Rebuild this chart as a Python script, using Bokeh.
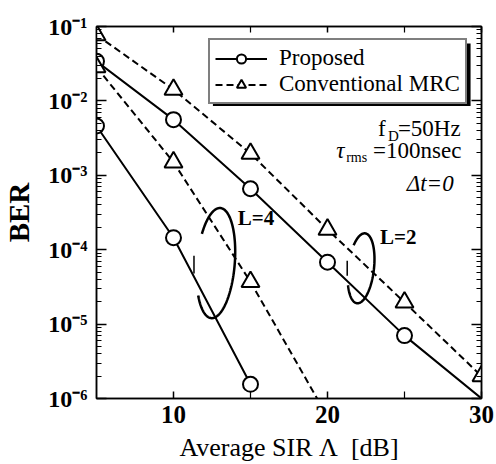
import numpy as np
from bokeh.plotting import figure
from bokeh.models import (LinearAxis, LogAxis, FixedTicker, CustomJSTickFormatter,
                          Legend, LegendItem, Label, Range1d, BoxAnnotation)
from bokeh.embed import file_html
from bokeh.resources import INLINE

FONT = "Liberation Serif"

# ---- data ----
# Proposed, L=2 (markers at 5..25, line runs on to 30)
prop_L2_x = [5, 10, 15, 20, 25, 30]
prop_L2_y = [3.4e-2, 5.6e-3, 6.6e-4, 6.8e-5, 7.0e-6, 1.0e-6]
prop_L2_nmark = 5
# Proposed, L=4
prop_L4_x = [5, 10, 15]
prop_L4_y = [4.6e-3, 1.45e-4, 1.55e-6]
prop_L4_nmark = 3
# Conventional MRC, L=2
conv_L2_x = [5, 10, 15, 20, 25, 30]
conv_L2_y = [7.7e-2, 1.42e-2, 1.96e-3, 1.87e-4, 1.96e-5, 2.0e-6]
conv_L2_nmark = 6
# Conventional MRC, L=4 (markers at 5..15, line runs on past bottom)
conv_L4_x = [5, 10, 15, 20]
conv_L4_y = [2.84e-2, 1.5e-3, 3.7e-5, 5.7e-7]
conv_L4_nmark = 3

x_major = [10, 20, 30]
x_minor = [15, 25]
y_major = [1e-6, 1e-5, 1e-4, 1e-3, 1e-2, 1e-1]
y_minor = [k * 10.0 ** e for e in range(-6, -1) for k in range(2, 10)]

p = figure(width=496, height=464, x_range=Range1d(5, 30), y_range=Range1d(1e-6, 1e-1),
           y_axis_type="log", output_backend="svg", toolbar_location=None,
           min_border_left=94, min_border_right=15, min_border_top=26, min_border_bottom=66)
p.grid.visible = False
p.outline_line_color = "black"
p.outline_line_width = 1.5
p.background_fill_color = "white"
p.border_fill_color = "white"

sup_js = r"""
const sup = {"-": "\u207b", "0": "\u2070", "1": "\u00b9", "2": "\u00b2", "3": "\u00b3",
             "4": "\u2074", "5": "\u2075", "6": "\u2076", "7": "\u2077", "8": "\u2078", "9": "\u2079"};
const e = Math.round(Math.log10(tick));
return "10" + String(e).split("").map(c => sup[c]).join("");
"""
blank = CustomJSTickFormatter(code="return '';")

def style_axis(ax, major_in, minor_in):
    ax.axis_line_color = "black"
    ax.axis_line_width = 1.5
    ax.major_tick_in = major_in
    ax.major_tick_out = 0
    ax.minor_tick_in = minor_in
    ax.minor_tick_out = 0
    ax.major_tick_line_width = 1.5
    ax.minor_tick_line_width = 1.2
    ax.major_tick_line_color = "black"
    ax.minor_tick_line_color = "black"

xa = p.xaxis[0]
xa.ticker = FixedTicker(ticks=x_major, minor_ticks=x_minor)
style_axis(xa, 7, 7)
xa.major_label_text_font = FONT
xa.major_label_text_font_size = "25px"
xa.major_label_text_font_style = "bold"
xa.major_label_text_color = "black"
xa.major_label_standoff = 7
xa.axis_label = "Average SIR \u039b\u2002[dB]"
xa.axis_label_text_font = FONT
xa.axis_label_text_font_size = "26px"
xa.axis_label_text_font_style = "normal"
xa.axis_label_text_color = "black"
xa.axis_label_standoff = 7

ya = p.yaxis[0]
ya.ticker = FixedTicker(ticks=y_major, minor_ticks=y_minor)
ya.formatter = CustomJSTickFormatter(code=sup_js)
style_axis(ya, 10, 5)
ya.major_label_text_font = FONT
ya.major_label_text_font_size = "24px"
ya.major_label_text_font_style = "bold"
ya.major_label_text_color = "black"
ya.major_label_standoff = 9
ya.axis_label = "BER"
ya.axis_label_text_font = FONT
ya.axis_label_text_font_size = "29px"
ya.axis_label_text_font_style = "bold"
ya.axis_label_text_color = "black"
ya.axis_label_standoff = 10

top = LinearAxis(ticker=FixedTicker(ticks=x_major, minor_ticks=x_minor), formatter=blank)
style_axis(top, 6, 6)
top.major_label_text_font_size = "1px"
top.major_label_standoff = 0
p.add_layout(top, "above")

right = LogAxis(ticker=FixedTicker(ticks=y_major, minor_ticks=y_minor), formatter=blank)
style_axis(right, 10, 5)
right.major_label_text_font_size = "1px"
right.major_label_standoff = 0
p.add_layout(right, "right")

LW = 2
DASH = "7 4"

def series(xs, ys, nmark, dashed, marker):
    kw = dict(line_color="black", line_width=LW)
    if dashed:
        kw["line_dash"] = DASH
    ln = p.line(xs, ys, **kw)
    if marker == "circle":
        sc = p.scatter(xs[:nmark], ys[:nmark], marker="circle", size=15,
                       fill_color="white", line_color="black", line_width=2)
    else:
        sc = p.scatter(xs[:nmark], ys[:nmark], marker="triangle", size=18,
                       fill_color="white", line_color="black", line_width=2)
    return ln, sc

lp2, sp2 = series(prop_L2_x, prop_L2_y, prop_L2_nmark, False, "circle")
lp4, sp4 = series(prop_L4_x, prop_L4_y, prop_L4_nmark, False, "circle")
lc2, sc2 = series(conv_L2_x, conv_L2_y, conv_L2_nmark, True, "triangle")
lc4, sc4 = series(conv_L4_x, conv_L4_y, conv_L4_nmark, True, "triangle")

# ---- L=4 / L=2 grouping ellipses (annotation), given in dB and log10(BER) units ----
def arc(cx, cly, rx, rly, shear, t0, t1):
    t = np.radians(np.linspace(t0, t1, 160))
    x = cx + rx * np.cos(t) + shear * np.sin(t)
    y = 10.0 ** (cly + rly * np.sin(t))
    return x, y

ex, ey = arc(12.75, -4.18, 1.23, 0.74, 0.26, 216, 508)
p.line(ex, ey, line_color="black", line_width=2.5)
ex, ey = arc(22.18, -4.25, 0.84, 0.47, 0.23, 209, 499)
p.line(ex, ey, line_color="black", line_width=2.5)
p.segment(x0=[11.33, 21.28], y0=[10 ** -4.08, 10 ** -4.15], x1=[11.33, 21.28],
          y1=[10 ** -4.32, 10 ** -4.35], line_color="black", line_width=1.5)

def lab(x, ly, text, size="23px", style="normal", align="left", baseline="middle"):
    p.add_layout(Label(x=x, y=10 ** ly, text=text, text_font=FONT, text_font_size=size,
                       text_font_style=style, text_align=align, text_baseline=baseline,
                       text_color="black"))

lab(14.17, -3.58, "L=4", size="21px", style="bold")
lab(23.41, -3.836, "L=2", size="21px", style="bold")
lab(23.28, -2.371, "f")
lab(23.93, -2.478, "D", size="15px")
lab(24.57, -2.371, "=50Hz")
lab(20.57, -2.667, "\u03c4", style="italic")
lab(21.21, -2.761, "rms", size="14px")
lab(22.96, -2.667, "=100nsec")
lab(28.19, -3.11, "\u0394t=0", size="23px", style="italic", align="right")

# legend drop shadow (annotation box just behind the legend)
p.add_layout(BoxAnnotation(left=12.56, right=29.29, top=10 ** -1.2285, bottom=10 ** -2.068,
                           fill_color="black", fill_alpha=1, line_color=None))

legend = Legend(items=[LegendItem(label="Proposed", renderers=[lp2, sp2]),
                       LegendItem(label="Conventional MRC", renderers=[lc2, sc2])],
                location=(112, 294), label_text_font=FONT, label_text_font_size="23px",
                label_text_font_style="normal",
                label_text_color="black", border_line_color="black", border_line_width=2,
                padding=5, spacing=0, glyph_width=52, glyph_height=23, label_height=23,
                label_standoff=12, margin=0, background_fill_color="white",
                background_fill_alpha=1)
p.add_layout(legend)

open("out.html", "w").write(file_html(p, INLINE))
